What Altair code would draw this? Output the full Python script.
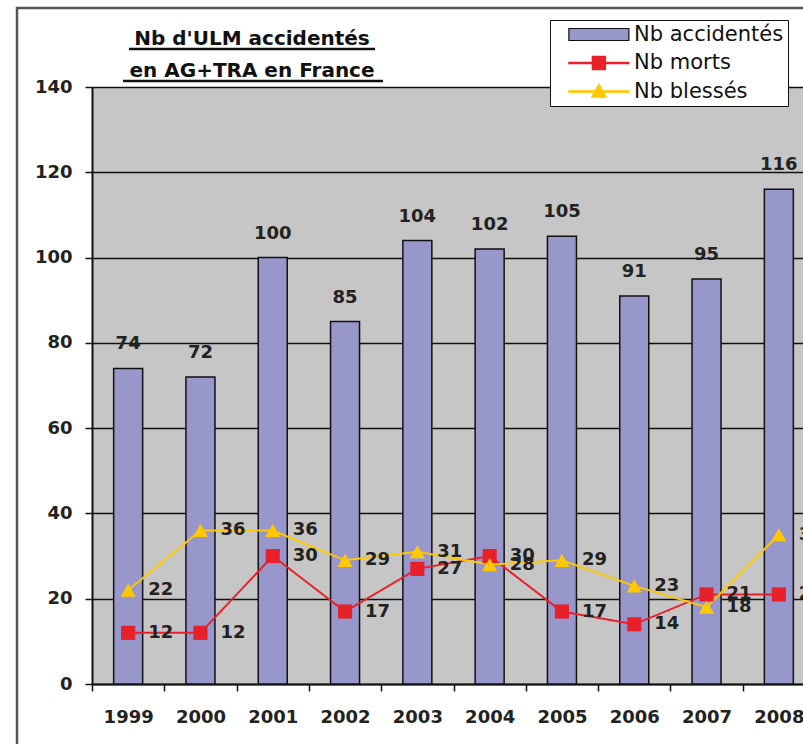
import altair as alt
import pandas as pd

# Yearly figures
years = ["1999", "2000", "2001", "2002", "2003", "2004", "2005", "2006", "2007", "2008"]
accidents = [74, 72, 100, 85, 104, 102, 105, 91, 95, 116]
morts = [12, 12, 30, 17, 27, 30, 17, 14, 21, 21]
blesses = [22, 36, 36, 29, 31, 28, 29, 23, 18, 35]

series = ["Nb accidentés", "Nb morts", "Nb blessés"]
title_lines = ["Nb d'ULM accidentés", "en AG+TRA en France"]

FONT = "DejaVu Sans"
BAR_FILL = "#9797CC"
RED = "#E8202A"
YELLOW = "#FFC800"
GRAY_BG = "#C6C6C6"

df = pd.DataFrame({"annee": years, "accidents": accidents, "morts": morts, "blesses": blesses})
legend_df = pd.DataFrame({"serie": series})
one = pd.DataFrame({"k": [0]})

# legend glyphs (unit paths, scaled by the symbol size)
a, b = 0.73, 10.73
m = (a + b) / 2
bar_glyph = f"M{a},-1H{b}V1H{a}Z"
line_part = f"M{a},-0.12H{b}V0.12H{a}Z"
square_glyph = line_part + f"M{m-1.1:.2f},-1.1H{m+1.1:.2f}V1.1H{m-1.1:.2f}Z"
triangle_glyph = line_part + f"M{m:.2f},-1.25L{m+1.2:.2f},0.95H{m-1.2:.2f}Z"

x_enc = alt.X(
    "annee:N",
    sort=years,
    title=None,
    scale=alt.Scale(range=[0, 723], paddingInner=0, paddingOuter=0),
    axis=alt.Axis(
        labelAngle=0, labelFont=FONT, labelFontSize=18, labelFontWeight="bold",
        labelColor="#222", labelPadding=17, tickBand="extent", tickSize=7,
        tickColor="#111", tickWidth=1.5, domainColor="#111", domainWidth=2,
        grid=False,
    ),
)
y_scale = alt.Scale(domain=[0, 140], nice=False)

base = alt.Chart(df).encode(x=x_enc)

bars = base.mark_bar(size=29, fill=BAR_FILL, stroke="#111", strokeWidth=1.5).encode(
    y=alt.Y(
        "accidents:Q", scale=y_scale, title=None,
        axis=alt.Axis(
            values=[0, 20, 40, 60, 80, 100, 120, 140], labelFont=FONT, labelFontSize=18,
            labelFontWeight="bold", labelColor="#222", labelPadding=13, tickSize=7,
            tickColor="#111", tickWidth=1.5, domainColor="#111", domainWidth=2,
            gridColor="#111", gridWidth=1.5, gridOpacity=1,
        ),
    )
)
bar_labels = base.mark_text(
    font=FONT, fontSize=18, fontWeight="bold", color="#222", baseline="alphabetic", dy=-19
).encode(y=alt.Y("accidents:Q", scale=y_scale), text="accidents:Q")

red_line = base.mark_line(color=RED, strokeWidth=2).encode(y=alt.Y("morts:Q", scale=y_scale))
red_pts = base.mark_point(shape="square", filled=True, size=200, color=RED, opacity=1).encode(
    y=alt.Y("morts:Q", scale=y_scale)
)
red_labels = base.mark_text(
    font=FONT, fontSize=18, fontWeight="bold", color="#222", align="left", baseline="middle", dx=20
).encode(y=alt.Y("morts:Q", scale=y_scale), text="morts:Q")

yel_line = base.mark_line(color=YELLOW, strokeWidth=2).encode(y=alt.Y("blesses:Q", scale=y_scale))
yel_pts = base.mark_point(shape="triangle-up", filled=True, size=230, color=YELLOW, opacity=1).encode(
    y=alt.Y("blesses:Q", scale=y_scale)
)
yel_labels = base.mark_text(
    font=FONT, fontSize=18, fontWeight="bold", color="#222", align="left", baseline="middle", dx=20
).encode(y=alt.Y("blesses:Q", scale=y_scale), text="blesses:Q")


def series_legend():
    return alt.Legend(
        orient="none", legendX=458, legendY=-67, title=None,
        labelFont=FONT, labelFontSize=21, labelColor="#111", labelOffset=59,
        labelExpr="datum.label + '\u00a0\u00a0'",
        padding=4, rowPadding=6.5, symbolSize=144, symbolStrokeWidth=1.2,
        strokeColor="#111", fillColor="white",
    )


# legend carrier: the points sit off the canvas, only their legend is shown
legend_layer = alt.Chart(legend_df).mark_point(filled=True, size=144, opacity=1, strokeWidth=1.2).encode(
    x=alt.value(-2000),
    y=alt.value(-2000),
    fill=alt.Fill(
        "serie:N", sort=series,
        scale=alt.Scale(domain=series, range=[BAR_FILL, RED, YELLOW]),
        legend=series_legend(),
    ),
    stroke=alt.Stroke(
        "serie:N", sort=series,
        scale=alt.Scale(domain=series, range=["#111", RED, YELLOW]),
        legend=series_legend(),
    ),
    shape=alt.Shape(
        "serie:N", sort=series,
        scale=alt.Scale(domain=series, range=[bar_glyph, square_glyph, triangle_glyph]),
        legend=series_legend(),
    ),
)

# outer frame
frame = alt.Chart(one).mark_rect(fillOpacity=0, stroke="#555", strokeWidth=2.5).encode(
    x=alt.value(-75), x2=alt.value(740), y=alt.value(-79), y2=alt.value(700)
)

# two-line underlined heading
title_style = dict(font=FONT, fontSize=20, fontWeight="bold", color="#111", align="center",
                   baseline="alphabetic")
title1 = alt.Chart(one).mark_text(text=title_lines[0], **title_style).encode(
    x=alt.value(160), y=alt.value(-42)
)
title2 = alt.Chart(one).mark_text(text=title_lines[1], **title_style).encode(
    x=alt.value(160), y=alt.value(-10)
)
underline1 = alt.Chart(one).mark_rule(color="#111", strokeWidth=2.5).encode(
    x=alt.value(37), x2=alt.value(283), y=alt.value(-38)
)
underline2 = alt.Chart(one).mark_rule(color="#111", strokeWidth=2.5).encode(
    x=alt.value(31), x2=alt.value(291), y=alt.value(-6)
)

chart = alt.layer(
    frame, bars, bar_labels, red_line, yel_line, red_pts, yel_pts, red_labels, yel_labels,
    legend_layer, title1, title2, underline1, underline2,
).properties(
    width=711,
    height=597,
    autosize=alt.AutoSizeParams(type="none"),
    padding={"left": 92, "top": 87, "right": 0, "bottom": 60},
    background="white",
).configure_view(fill=GRAY_BG, stroke=None)

chart.save("out.html", embed_options={"renderer": "svg", "actions": False})
